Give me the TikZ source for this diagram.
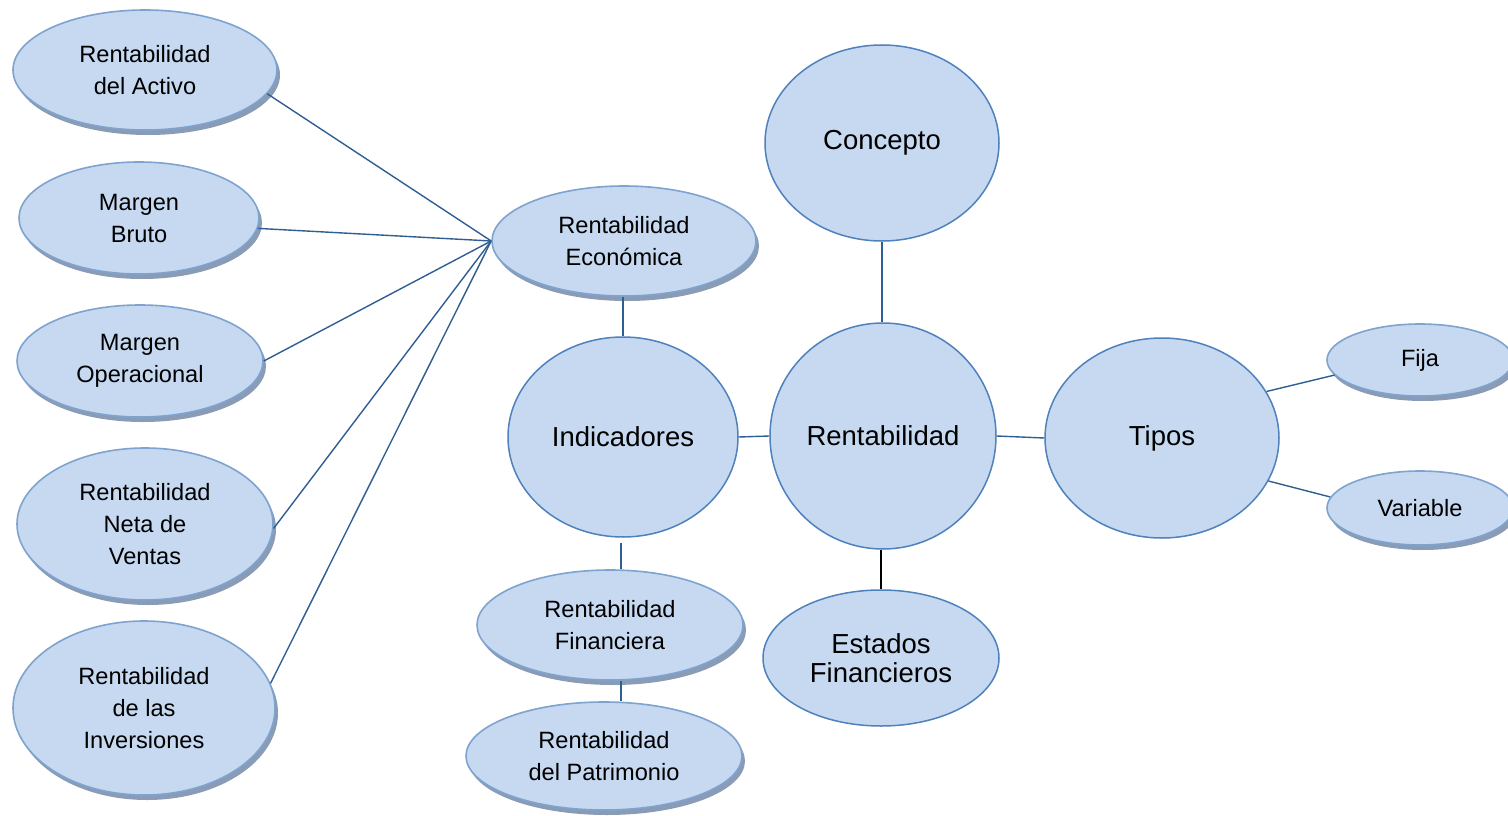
\documentclass[tikz,border=0pt]{standalone}
\usepackage{fontspec}
\setmainfont{Liberation Sans}
\usetikzlibrary{shapes.geometric,shadows}
\definecolor{efill}{HTML}{C6D9F1}
\definecolor{eborder}{HTML}{7EA3CF}
\definecolor{bborder}{HTML}{4F81BD}
\definecolor{eshadow}{HTML}{8A9BB5}
\definecolor{link}{HTML}{2F5E93}
\tikzset{
  small/.style={ellipse, fill=efill, draw=eborder, line width=1.6pt, inner sep=0pt, align=center,
    font=\fontsize{23.6}{32}\selectfont,
    drop shadow={shadow xshift=3pt, shadow yshift=-5pt, fill=eshadow, opacity=1}},
  big/.style={ellipse, fill=efill, draw=bborder, line width=1.5pt, inner sep=0pt, align=center,
    font=\fontsize{27.5}{29}\selectfont},
  link/.style={draw=link, line width=1.4pt},
}
\begin{document}
\begin{tikzpicture}[x=1pt,y=-1pt]
\clip (0,0) rectangle (1508,816);
\fill[white] (0,0) rectangle (1508,816);
% left column
\node[small, minimum width=264pt, minimum height=120pt] (act) at (145,70) {Rentabilidad\\del Activo};
\node[small, minimum width=240pt, minimum height=112pt] (mb) at (139,218) {Margen\\Bruto};
\node[small, minimum width=246pt, minimum height=112pt] (mo) at (140,361) {Margen\\Operacional};
\node[small, minimum width=256pt, minimum height=152pt] (nv) at (145,524) {Rentabilidad\\Neta de\\Ventas};
\node[small, minimum width=262pt, minimum height=174pt] (inv) at (144,708) {Rentabilidad\\de las\\Inversiones};
% middle
\node[small, minimum width=264pt, minimum height=110pt] (eco) at (624,241) {Rentabilidad\\Económica};
\node[big, minimum width=230pt, minimum height=200pt] (ind) at (623,437) {Indicadores};
\node[small, minimum width=266pt, minimum height=110pt] (fin) at (610,625) {Rentabilidad\\Financiera};
\node[small, minimum width=276pt, minimum height=108pt] (pat) at (604,756) {Rentabilidad\\del Patrimonio};
% center
\node[big, minimum width=234pt, minimum height=196pt] (con) at (882,143) {Concepto};
\node[big, minimum width=226pt, minimum height=226pt] (ren) at (883,436) {Rentabilidad};
\node[big, minimum width=236pt, minimum height=136pt] (est) at (881,658) {Estados\\Financieros};
% right
\node[big, minimum width=234pt, minimum height=200pt] (tip) at (1162,438) {Tipos};
\node[small, minimum width=186pt, minimum height=72pt] (fij) at (1420,360) {Fija};
\node[small, minimum width=186pt, minimum height=74pt] (var) at (1420,508) {Variable};
% connectors
\draw[link] (act.-11.5) -- (eco.west);
\draw[link] (mb.-5.8) -- (eco.west);
\draw[link] (mo.east) -- (eco.west);
\draw[link] (nv.-2.6) -- (eco.west);
\draw[link] (inv.11.6) -- (eco.west);
\draw[link] (eco.south -| ind.north) -- (ind.north);
\draw[link] (ind.east) -- (ren.west);
\draw[link] (ren.north -| con.south) -- (con.south);
\draw[draw=black, line width=1.4pt] (ren.south -| est.north) -- (est.north);
\draw[link] (ren.east) -- (tip.west);
\draw[link] (tip.24) -- (fij.190);
\draw[link] (tip.-22) -- (var.173);
\draw[link] ([shift={(-2pt,-5pt)}]ind.south) -- ([xshift=-2pt]ind.south |- fin.north);
\draw[link] ([xshift=-2pt]ind.south |- fin.south) -- ([xshift=-2pt]ind.south |- pat.north);
\end{tikzpicture}
\end{document}
